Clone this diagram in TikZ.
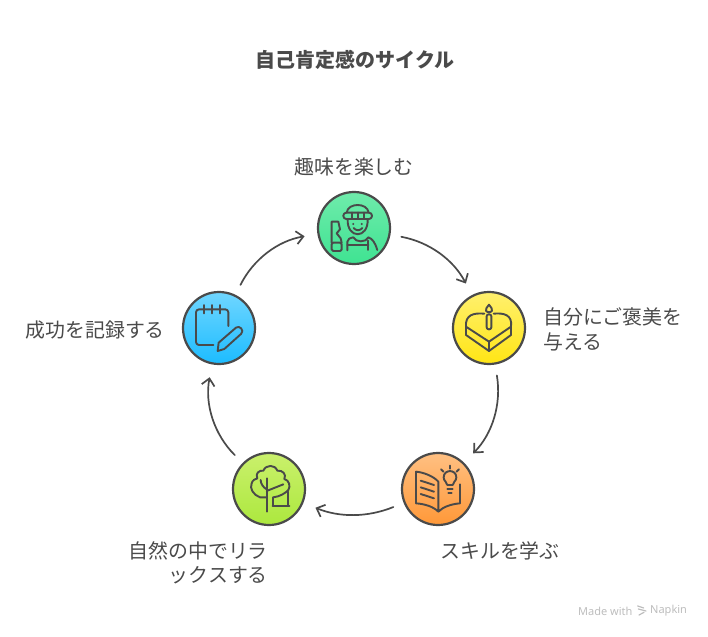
\documentclass[tikz,border=0pt]{standalone}
\usepackage{fontspec}
\setmainfont{Noto Sans CJK JP}
\newfontfamily\markfont{Noto Sans}
\usetikzlibrary{arrows.meta}

\definecolor{ink}{HTML}{4A4A4A}
\definecolor{markgray}{HTML}{BDBDBD}
\definecolor{funtop}{HTML}{6FEBAB}
\definecolor{funbot}{HTML}{3FE392}
\definecolor{caketop}{HTML}{FFF06E}
\definecolor{cakebot}{HTML}{FFE514}
\definecolor{booktop}{HTML}{FFC082}
\definecolor{bookbot}{HTML}{FF9838}
\definecolor{treetop}{HTML}{CAF06C}
\definecolor{treebot}{HTML}{ACE83E}
\definecolor{padtop}{HTML}{70D6FF}
\definecolor{padbot}{HTML}{1CBCFF}

\begin{document}
\begin{tikzpicture}[x=1pt,y=-1pt]
        \useasboundingbox (0,0) rectangle (708,636);

        \tikzstyle{every path}=[line join=round,line cap=round]
        \tikzstyle{ball}=[circle,draw=ink,line width=2.2pt,minimum size=72pt,inner sep=0pt]
        \tikzstyle{lab}=[text=ink,font=\fontsize{19.9}{24.6}\selectfont,inner sep=0pt]
        \tikzstyle{cyc}=[draw=ink,line width=1.7pt,-{Straight Barb[length=7pt,width=13pt]},shorten <=11pt,shorten >=13pt]
        \tikzstyle{icon}=[draw=ink,line width=1.9pt]
        \tikzstyle{brand}=[text=markgray,font=\markfont\fontsize{11}{12}\selectfont,inner sep=0pt]

        \node [lab,font=\fontsize{20}{24}\selectfont\bfseries] (title) at (355,60) {自己肯定感のサイクル};

        \node [ball,top color=funtop,bottom color=funbot] (fun) at (354,228) {};
        \node [ball,top color=caketop,bottom color=cakebot] (cake) at (489,328) {};
        \node [ball,top color=booktop,bottom color=bookbot] (book) at (438,489) {};
        \node [ball,top color=treetop,bottom color=treebot] (tree) at (269,489) {};
        \node [ball,top color=padtop,bottom color=padbot] (pad) at (219,328) {};

        \node [lab] (funlabel) at (354,167) {趣味を楽しむ};
        \node [lab,anchor=west,align=left] (cakelabel) at (543,329.5) {自分にご褒美を\\与える};
        \node [lab] (booklabel) at (500,551) {スキルを学ぶ};
        \node [lab,anchor=east,align=right] (treelabel) at (268,563) {自然の中でリラ\\ックスする};
        \node [lab,anchor=east] (padlabel) at (165,330) {成功を記録する};

        %arrows round the cycle
        \foreach \src/\dst/\bend in {fun/cake/26,cake/book/27,book/tree/22,tree/pad/28,pad/fun/27} {
            \draw [cyc] (\src) to [bend left=\bend] (\dst);
        };

        %worker and saw
        \begin{scope}[shift={(290,150)},x=0.3333pt,y=-0.3333pt]
            \draw [icon] (170,188) .. controls (172,172) and (188,165) .. (203,165) .. controls (218,165) and (234,172) .. (236,188);
            \draw [icon,rounded corners=3pt] (160,188) rectangle (246,207);
            \draw [icon] (185,188) -- (185,207) (203,188) -- (203,207) (221,188) -- (221,207);
            \draw [icon] (173,207) .. controls (170,268) and (236,268) .. (233,207);
            \fill [ink] (190,222) circle (3.4) (215,222) circle (3.4);
            \draw [icon] (191,234) .. controls (198,243) and (210,243) .. (217,234);
            \draw [icon] (172,301) -- (172,275) .. controls (172,268) and (180,264) .. (190,262) .. controls (197,278) and (228,278) .. (235,262) .. controls (248,266) and (256,280) .. (262,300);
            \draw [icon] (172,285) -- (235,285) (235,272) -- (235,300);
            \draw [icon,rounded corners=1.5pt] (125,278) rectangle (155,303);
            \draw [icon] (125,278) -- (125,215) -- (145,215) -- (150,238) -- (140,250) -- (152,265) -- (155,278);
        \end{scope}

        %cake
        \begin{scope}[shift={(430,280)},x=0.3333pt,y=-0.3333pt]
            \draw [icon] (163,101) .. controls (130,98) and (105,105) .. (108,140) -- (177,185) -- (243,140) .. controls (248,105) and (222,98) .. (191,101);
            \draw [icon] (108,140) -- (108,165) -- (177,213) -- (243,165) -- (243,140);
            \draw [icon] (177,185) -- (177,213);
            \draw [icon,rounded corners=2pt] (170,103) rectangle (184,148);
            \draw [icon] (177,74) .. controls (183,82) and (188,87) .. (186,92) .. controls (184,98) and (170,98) .. (168,92) .. controls (166,87) and (171,82) .. (177,74);
        \end{scope}

        %book and bulb
        \begin{scope}[shift={(390,440)},x=0.3333pt,y=-0.3333pt]
            \draw [icon] (145,215) -- (145,125) .. controls (130,108) and (100,97) .. (78,95) -- (78,190) .. controls (105,192) and (130,200) .. (145,215) .. controls (160,200) and (185,192) .. (210,190) -- (210,133);
            \draw [icon] (92,122) -- (132,135) (92,142) -- (132,155) (92,162) -- (132,175);
            \draw [icon] (172,135) .. controls (172,125) and (161,125) .. (161,112) .. controls (161,87) and (199,87) .. (199,112) .. controls (199,125) and (188,125) .. (188,135) -- cycle;
            \draw [icon] (172,148) -- (188,148) (175,160) -- (185,160);
            \draw [icon] (180,77) -- (180,86) (153,88) -- (160,95) (207,88) -- (200,95);
        \end{scope}

        %tree
        \begin{scope}[shift={(220,440)},x=0.3333pt,y=-0.3333pt]
            \draw [icon] (140,172) -- (120,172) .. controls (100,165) and (88,145) .. (95,130) .. controls (98,120) and (105,117) .. (112,115) .. controls (105,100) and (118,90) .. (130,92) .. controls (138,73) and (165,73) .. (172,92) .. controls (188,90) and (200,103) .. (193,117) .. controls (208,120) and (212,140) .. (205,150) .. controls (198,158) and (180,170) .. (160,172);
            \draw [icon] (140,115) -- (140,215);
            \draw [icon] (122,120) .. controls (122,132) and (130,142) .. (140,148);
            \draw [icon] (140,153) -- (190,133);
            \draw [icon] (205,155) -- (205,197) (160,172) -- (160,197) (158,197) -- (208,197);
        \end{scope}

        %notepad
        \begin{scope}[shift={(170,280)},x=0.3333pt,y=-0.3333pt]
            \draw [icon,rounded corners=3pt] (175,138) -- (175,88) -- (78,88) -- (78,195) -- (130,195);
            \draw [icon] (103,75) -- (103,100) (127,75) -- (127,100) (150,75) -- (150,100);
            \draw [icon] (146,188) -- (198,143) .. controls (208,134) and (225,152) .. (213,162) -- (163,207) -- (143,213) -- cycle;
        \end{scope}

        %mark in the corner
        \node [brand,anchor=west] (made) at (578,611) {Made with};
        \node [brand,anchor=west] (napkin) at (650,611) {Napkin};
        \begin{scope}[shift={(560,595)},x=0.3333pt,y=-0.3333pt]
            \draw [markgray,line width=1.2pt] (233,33) -- (251,39) (235,42) -- (258,48) (237,60) -- (252,52);
        \end{scope}
\end{tikzpicture}
\end{document}
